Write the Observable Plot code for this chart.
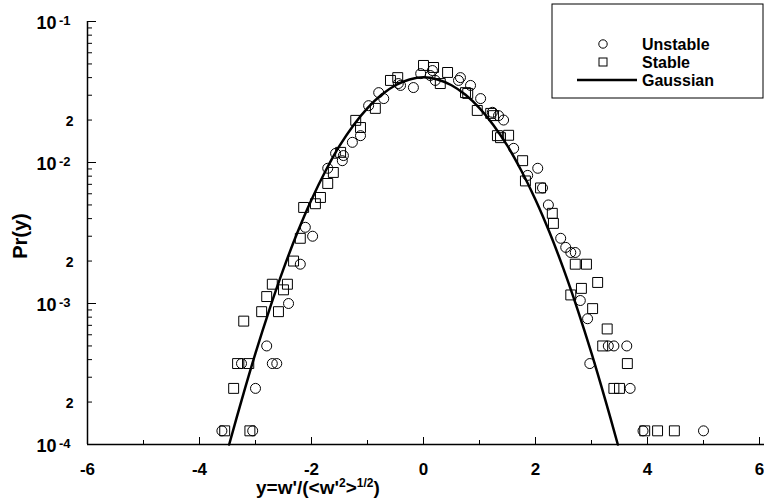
<!DOCTYPE html>
<html>
<head>
<meta charset="utf-8">
<script src="https://cdn.jsdelivr.net/npm/d3@7"></script>
<script src="https://cdn.jsdelivr.net/npm/@observablehq/plot@0.6"></script>
<style>
  html, body { margin: 0; padding: 0; background: #fff; }
  svg { display: block; }
</style>
</head>
<body>
<div id="chart"></div>
<script>
// ---- data ----
const unstableX = [-3.60,-3.05,-3.00,-3.25,-2.70,-2.62,-2.80,-2.41,-2.20,-2.11,-1.98,-1.71,-1.57,-1.45,-1.43,-1.27,-1.125,-0.98,-0.80,-0.71,-0.45,-0.41,-0.18,-0.05,0.12,0.16,0.21,0.66,0.625,0.84,1.02,1.23,1.34,1.43,1.61,1.86,2.04,2.125,2.23,2.45,2.54,2.63,2.71,2.80,2.93,2.97,3.30,3.40,3.63,3.69,3.92,5.00];
const unstableP = [1.25e-4,1.25e-4,2.5e-4,3.75e-4,3.75e-4,3.75e-4,5.0e-4,1.0e-3,1.9e-3,3.47e-3,3.0e-3,9.1e-3,1.16e-2,1.03e-2,1.12e-2,1.39e-2,1.55e-2,2.53e-2,3.13e-2,2.84e-2,3.63e-2,3.52e-2,3.40e-2,4.27e-2,4.14e-2,4.49e-2,3.82e-2,4.0e-2,3.82e-2,3.52e-2,2.84e-2,2.27e-2,2.15e-2,2.0e-2,1.26e-2,8.1e-3,9.1e-3,6.6e-3,5.0e-3,2.9e-3,2.5e-3,2.3e-3,2.3e-3,1.05e-3,7.8e-4,3.75e-4,5.0e-4,5.0e-4,5.0e-4,2.5e-4,1.25e-4,1.25e-4];

const stableX = [-3.55,-3.10,-3.39,-3.32,-3.12,-3.21,-2.89,-2.59,-2.80,-2.70,-2.43,-2.50,-2.32,-2.20,-2.14,-1.93,-1.84,-1.71,-1.61,-1.48,-1.21,-1.125,-0.86,-0.59,-0.46,0.00,0.18,0.30,0.43,0.75,0.79,0.96,1.20,1.25,1.32,1.375,1.52,1.77,1.82,2.09,2.30,2.32,2.63,2.71,2.82,2.91,3.02,3.11,3.20,3.28,3.40,3.50,3.64,3.95,4.18,4.48];
const stableP = [1.25e-4,1.25e-4,2.5e-4,3.75e-4,3.75e-4,7.5e-4,8.75e-4,8.75e-4,1.12e-3,1.37e-3,1.37e-3,1.25e-3,2.0e-3,2.9e-3,4.8e-3,5.1e-3,5.65e-3,7.1e-3,8.5e-3,1.18e-2,1.99e-2,1.77e-2,2.42e-2,3.82e-2,4.0e-2,4.88e-2,4.72e-2,3.63e-2,4.35e-2,3.13e-2,3.09e-2,2.34e-2,2.23e-2,2.15e-2,1.55e-2,1.5e-2,1.56e-2,1.03e-2,7.4e-3,6.6e-3,4.36e-3,3.7e-3,1.15e-3,1.9e-3,1.28e-3,1.9e-3,9.2e-4,1.41e-3,5.0e-4,6.6e-4,2.5e-4,2.5e-4,3.75e-4,1.25e-4,1.25e-4,1.25e-4];

const gaussX = [-3.47,-3.25,-3.0,-2.75,-2.5,-2.25,-2.0,-1.75,-1.5,-1.25,-1.0,-0.75,-0.5,-0.25,0,0.25,0.5,0.75,1.0,1.25,1.5,1.75,2.0,2.25,2.5,2.75,3.0,3.25,3.47];
const gaussP = [1.0e-4,2.05e-4,4.45e-4,9.1e-4,1.76e-3,3.2e-3,5.45e-3,8.7e-3,1.31e-2,1.84e-2,2.43e-2,3.02e-2,3.53e-2,3.88e-2,4.02e-2,3.88e-2,3.53e-2,3.02e-2,2.43e-2,1.84e-2,1.31e-2,8.7e-3,5.45e-3,3.2e-3,1.76e-3,9.1e-4,4.45e-4,2.05e-4,1.0e-4];

const xTickValues = [-6,-4,-2,0,2,4,6];
const xTickLabels = ["-6","-4","-2","0","2","4","6"];
const xMinorTicks = [-5,-3,-1,1,3,5];
const yDecades = [1e-1,1e-2,1e-3,1e-4];
const yExponents = ["-1","-2","-3","-4"];
const yTwoTicks = [2e-2,2e-3,2e-4];
const yTwoLabels = ["2","2","2"];
const yMinorTicks = [2e-2,3e-2,4e-2,5e-2,6e-2,7e-2,8e-2,9e-2,2e-3,3e-3,4e-3,5e-3,6e-3,7e-3,8e-3,9e-3,2e-4,3e-4,4e-4,5e-4,6e-4,7e-4,8e-4,9e-4];

const seriesNames = ["Unstable","Stable","Gaussian"];

// ---- build tables ----
const unstable = unstableX.map((x,i) => ({x, p: unstableP[i]}));
const stable = stableX.map((x,i) => ({x, p: stableP[i]}));
const gauss = gaussX.map((x,i) => ({x, p: gaussP[i]}));

const W = 764, H = 502, mL = 87, mR = 5, mT = 21, mB = 58;
const frameW = W - mL - mR, frameH = H - mT - mB;
const font = "'Liberation Sans', Arial, Helvetica, sans-serif";

const chart = Plot.plot({
  width: W, height: H,
  marginLeft: mL, marginRight: mR, marginTop: mT, marginBottom: mB,
  x: {domain: [-6, 6], axis: null},
  y: {type: "log", domain: [1e-4, 1e-1], axis: null},
  style: {fontFamily: font, background: "white", color: "black"},
  marks: [
    // axis lines
    Plot.ruleX([-6], {x: d => d, stroke: "black", strokeWidth: 1.5}),
    Plot.ruleY([1e-4], {y: d => d, stroke: "black", strokeWidth: 1.5, insetRight: -5}),
    // x ticks (inward)
    Plot.ruleX(xTickValues, {x: d => d, insetTop: frameH - 7, stroke: "black"}),
    Plot.ruleX(xMinorTicks, {x: d => d, insetTop: frameH - 4, stroke: "black"}),
    // y ticks (inward)
    Plot.ruleY(yDecades, {y: d => d, insetRight: frameW - 9, stroke: "black"}),
    Plot.ruleY(yMinorTicks, {y: d => d, insetRight: frameW - 5, stroke: "black"}),
    // y tick labels
    Plot.text(yDecades, {y: d => d, text: () => "10", frameAnchor: "left", dx: -31, textAnchor: "end", fontSize: 18, fontWeight: "bold", lineAnchor: "middle", dy: 2}),
    Plot.text(yDecades, {y: d => d, text: (d, i) => yExponents[i], frameAnchor: "left", dx: -17, textAnchor: "end", fontSize: 13, fontWeight: "bold", lineAnchor: "middle", dy: -1}),
    Plot.text(yTwoTicks, {y: d => d, text: (d, i) => yTwoLabels[i], frameAnchor: "left", dx: -14, textAnchor: "end", fontSize: 14, fontWeight: "bold", lineAnchor: "middle", dy: 1}),
    // x tick labels
    Plot.text(xTickValues, {x: d => d, text: (d, i) => xTickLabels[i], frameAnchor: "bottom", dy: 25, fontSize: 17, fontWeight: "bold", lineAnchor: "middle"}),
    // gaussian curve
    Plot.line(gauss, {x: "x", y: "p", curve: "catmull-rom", stroke: "black", strokeWidth: 2.5}),
    // data points
    Plot.dot(unstable, {x: "x", y: "p", r: 5, symbol: "circle", fill: "none", stroke: "black", strokeWidth: 1}),
    Plot.dot(stable, {x: "x", y: "p", r: 5.6, symbol: "square", fill: "none", stroke: "black", strokeWidth: 1})
  ]
});

const svg = d3.select(chart);

// y axis title
svg.append("text")
  .attr("transform", "translate(20,236) rotate(-90)")
  .attr("text-anchor", "middle").attr("dy", "0.35em")
  .attr("font-family", font).attr("font-weight", "bold").attr("font-size", 20)
  .attr("fill", "black").text("Pr(y)");

// x axis title with superscripts
const xt = svg.append("text")
  .attr("x", 256).attr("y", 494).attr("text-anchor", "start")
  .attr("font-family", font).attr("font-weight", "bold").attr("font-size", 19)
  .attr("fill", "black");
xt.append("tspan").text("y=w'/(<w'");
xt.append("tspan").attr("font-size", 12).attr("dy", -7).text("2");
xt.append("tspan").attr("dy", 7).text(">");
xt.append("tspan").attr("font-size", 12).attr("dy", -7).text("1/2");
xt.append("tspan").attr("dy", 7).text(")");

// legend
const lg = svg.append("g").attr("font-family", font).attr("font-weight", "bold").attr("font-size", 16).attr("text-anchor", "start");
lg.append("rect").attr("x", 552).attr("y", 4).attr("width", 211).attr("height", 94)
  .attr("fill", "white").attr("stroke", "black").attr("stroke-width", 1);
const ly = [44, 62, 80];
lg.append("circle").attr("cx", 603).attr("cy", ly[0]).attr("r", 4.2).attr("fill", "none").attr("stroke", "black");
lg.append("rect").attr("x", 599).attr("y", ly[1] - 4).attr("width", 8).attr("height", 8).attr("fill", "none").attr("stroke", "black");
lg.append("line").attr("x1", 577).attr("x2", 637).attr("y1", ly[2]).attr("y2", ly[2]).attr("stroke", "black").attr("stroke-width", 2.5);
seriesNames.forEach((n, i) => {
  lg.append("text").attr("x", 642).attr("y", ly[i]).attr("dy", "0.35em").attr("text-anchor", "start").attr("fill", "black").text(n);
});

document.getElementById("chart").appendChild(chart);
</script>
</body>
</html>
